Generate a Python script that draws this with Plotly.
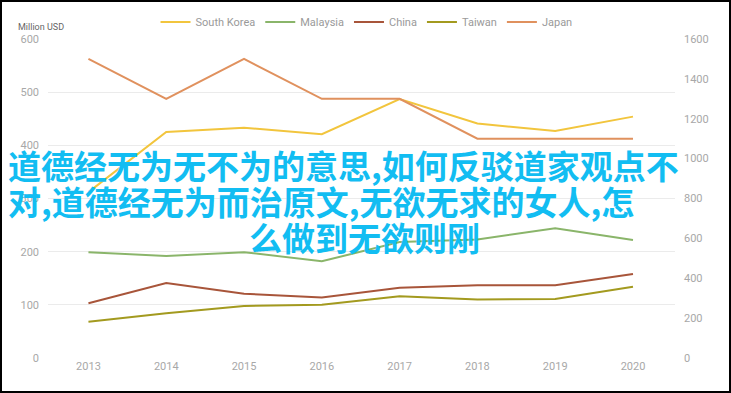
import plotly.graph_objects as go

years = ["2013", "2014", "2015", "2016", "2017", "2018", "2019", "2020"]
south_korea = [312, 425, 433, 421, 487, 441, 427, 454]
malaysia = [199, 192, 199, 182, 218, 223, 244, 222]
china = [103, 141, 121, 114, 132, 137, 137, 158]
taiwan = [68, 84, 98, 100, 116, 110, 111, 134]
japan = [1500, 1300, 1500, 1300, 1300, 1100, 1100, 1100]

left_ticks = [0, 100, 200, 300, 400, 500, 600]
right_ticks = [0, 200, 400, 600, 800, 1000, 1200, 1400, 1600]

overlay_lines = [
    "道德经无为无不为的意思,如何反驳道家观点不",
    "对,道德经无为而治原文,无欲无求的女人,怎",
    "么做到无欲则刚",
]

W, H = 731, 393
L, R, T, B = 48, 56, 39, 35
PW, PH = W - L - R, H - T - B


def px(x):
    return (x - L) / PW


def py(y):
    return (H - B - y) / PH


fig = go.Figure()
series = [
    ("South Korea", south_korea, "#f2c53d", "y"),
    ("Malaysia", malaysia, "#8ab56a", "y"),
    ("China", china, "#a8553a", "y"),
    ("Taiwan", taiwan, "#a39a1f", "y"),
    ("Japan", japan, "#e0915e", "y2"),
]
for name, vals, color, yax in series:
    fig.add_trace(go.Scatter(x=years, y=vals, name=name, mode="lines",
                             line=dict(color=color, width=2), yaxis=yax))

tick_font = dict(family="Roboto, sans-serif", size=11, color="#a8a8a8")
fig.update_layout(
    width=W, height=H,
    margin=dict(l=L, r=R, t=T, b=B, autoexpand=False),
    paper_bgcolor="white", plot_bgcolor="white",
    showlegend=True,
    legend=dict(orientation="h", x=0.508, xanchor="center", y=py(22), yanchor="middle",
                font=dict(family="Roboto, sans-serif", size=11, color="#9a9a9a"),
                itemwidth=30, tracegroupgap=0, bgcolor="rgba(0,0,0,0)"),
    xaxis=dict(type="category", range=[-0.52, 7.54], showgrid=False, zeroline=False,
               showline=False, ticks="", tickfont=tick_font, fixedrange=True,
               automargin=False),
    yaxis=dict(range=[0, 600], tickvals=left_ticks, showgrid=True, gridcolor="#ebebeb",
               gridwidth=1, zeroline=False, showline=False, ticks="", tickfont=tick_font,
               ticklabelstandoff=8, automargin=False),
    yaxis2=dict(range=[0, 1600], tickvals=right_ticks, overlaying="y", side="right",
                showgrid=False, zeroline=False, showline=False, ticks="", tickfont=tick_font,
                ticklabelstandoff=8, automargin=False),
)

fig.add_annotation(text="Million USD", xref="paper", yref="paper", x=px(16), y=py(27),
                   xanchor="left", yanchor="middle", showarrow=False,
                   font=dict(family="Roboto, sans-serif", size=9, color="#666666"))

cjk = "Noto Sans CJK SC"
text_color = "#12bdf2"
fig.add_annotation(text="<b>" + overlay_lines[0] + "</b>", xref="paper", yref="paper",
                   x=px(6), y=py(165), xanchor="left", yanchor="middle", showarrow=False,
                   font=dict(family=cjk, size=33, color=text_color))
fig.add_annotation(text="<b>" + overlay_lines[1] + "</b>", xref="paper", yref="paper",
                   x=px(6), y=py(201), xanchor="left", yanchor="middle", showarrow=False,
                   font=dict(family=cjk, size=33, color=text_color))
fig.add_annotation(text="<b>" + overlay_lines[2] + "</b>", xref="paper", yref="paper",
                   x=px(364), y=py(237), xanchor="center", yanchor="middle", showarrow=False,
                   font=dict(family=cjk, size=33, color=text_color))

fig.add_shape(type="rect", xref="paper", yref="paper",
              x0=px(1), x1=px(730), y0=py(392), y1=py(1),
              line=dict(color="black", width=2), fillcolor="rgba(0,0,0,0)", layer="above")

fig.write_html("out.html", config={"displayModeBar": False},
               post_script="document.body.style.margin='0';document.body.style.overflow='hidden';")
